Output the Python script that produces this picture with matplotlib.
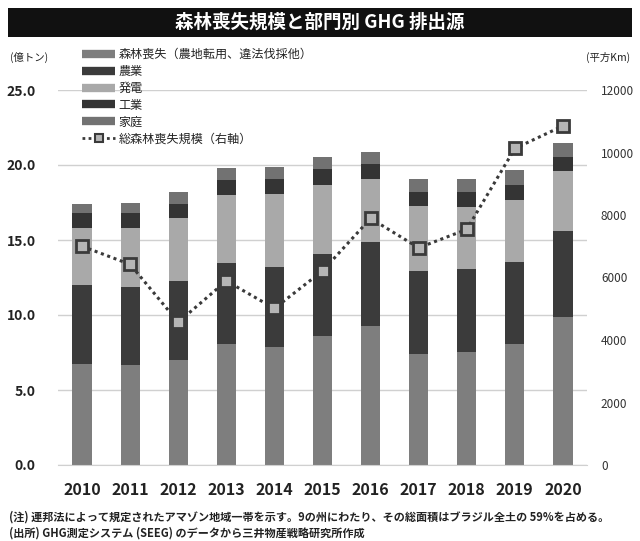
import matplotlib
matplotlib.use("Agg")
import matplotlib.pyplot as plt
from matplotlib.lines import Line2D
from matplotlib.patches import Rectangle
import numpy as np

plt.rcParams['font.family'] = ['Noto Sans CJK JP', 'DejaVu Sans']

years = [2010, 2011, 2012, 2013, 2014, 2015, 2016, 2017, 2018, 2019, 2020]
# Emissions by sector (100 million tonnes), stacked bottom to top
forest_loss = [6.73, 6.67, 7.00, 8.07, 7.89, 8.60, 9.29, 7.40, 7.56, 8.04, 9.89]
agriculture = [5.27, 5.23, 5.27, 5.37, 5.31, 5.50, 5.55, 5.53, 5.54, 5.52, 5.73]
power = [3.80, 3.90, 4.23, 4.56, 4.84, 4.57, 4.23, 4.36, 4.10, 4.14, 3.98]
industry = [1.00, 1.00, 0.90, 1.00, 1.00, 1.03, 1.00, 0.91, 1.00, 1.00, 0.96]
household = [0.60, 0.70, 0.80, 0.78, 0.86, 0.80, 0.77, 0.87, 0.87, 0.97, 0.93]
# Total deforested area (km2, right axis)
deforest_area = [7000, 6420, 4570, 5890, 5010, 6210, 7890, 6950, 7540, 10130, 10850]

series_names = ['森林喪失（農地転用、違法伐採他）', '農業', '発電', '工業', '家庭']
series_colors = ['#7e7e7e', '#3b3b3b', '#a9a9a9', '#343434', '#727272']
line_name = '総森林喪失規模（右軸）'

fig = plt.figure(figsize=(6.4, 5.41), dpi=100)
fig.patch.set_facecolor('white')

# Title bar
fig.patches.append(Rectangle((8/640, 1-37/541), 624/640, 29/541,
                             transform=fig.transFigure, facecolor='#111111',
                             edgecolor='none', zorder=0))
fig.text(0.5, 1-22.5/541, '森林喪失規模と部門別 GHG 排出源', color='white',
         fontsize=13.3, fontweight='bold', ha='center', va='center')

ax = fig.add_axes([58/640, 1-465/541, 529/640, 375/541])
x = np.arange(len(years))
bottom = np.zeros(len(years))
for vals, col in zip([forest_loss, agriculture, power, industry, household], series_colors):
    ax.bar(x, vals, width=0.4, bottom=bottom, color=col, edgecolor='none', zorder=2)
    bottom += np.array(vals)

ax.set_xlim(-0.5, len(years) - 0.5)
ax.set_ylim(0, 25)
ax.set_yticks(np.arange(0, 25.1, 5))
ax.set_yticklabels([f'{v:.1f}' for v in np.arange(0, 25.1, 5)],
                   fontsize=10, color='#222222', fontweight='bold')
ax.set_xticks(x)
ax.set_xticklabels([str(y) for y in years], fontsize=11.5, fontweight='bold',
                   color='#222222')
ax.tick_params(axis='y', length=0, pad=16)
ax.tick_params(axis='x', length=0, pad=12)
ax.grid(axis='y', color='#d0d0d0', linewidth=1.0, zorder=0)
ax.set_axisbelow(True)
for s in ax.spines.values():
    s.set_visible(False)
ax.spines['bottom'].set_visible(True)
ax.spines['bottom'].set_color('#d0d0d0')

ax2 = ax.twinx()
ax2.plot(x, deforest_area, linestyle=(0, (1, 1.2)), color='#3a3a3a', linewidth=2.2,
         marker='s', markersize=9, markerfacecolor='#b5b5b5',
         markeredgecolor='#3a3a3a', markeredgewidth=2.0, zorder=5)
ax2.set_ylim(0, 12000)
ax2.set_yticks(np.arange(0, 12001, 2000))
ax2.set_yticklabels([str(v) for v in range(0, 12001, 2000)], fontsize=8.5,
                    color='#333333')
ax2.tick_params(axis='y', length=0, pad=10)
for s in ax2.spines.values():
    s.set_visible(False)

fig.text(10/640, 1-57/541, '(億トン)', fontsize=7.5, color='#222222', va='center')
fig.text(630/640, 1-57/541, '(平方Km)', fontsize=7.5, color='#222222',
         va='center', ha='right')

handles = [Line2D([0], [0], color=c, linewidth=6, solid_capstyle='butt')
           for c in series_colors]
handles.append(Line2D([0], [0], linestyle=(0, (1, 1.2)), color='#3a3a3a', linewidth=2,
                      marker='s', markersize=6, markerfacecolor='#b5b5b5',
                      markeredgecolor='#3a3a3a', markeredgewidth=1.5))
leg = fig.legend(handles, series_names + [line_name], loc='upper left',
                 bbox_to_anchor=(82/640, 1-48/541), frameon=False,
                 fontsize=8.7, handlelength=2.75, handletextpad=0.25,
                 labelspacing=0.32, borderpad=0, borderaxespad=0)
for t in leg.get_texts():
    t.set_color('#222222')

fig.text(9/640, 1-517/541,
         '(注) 連邦法によって規定されたアマゾン地域一帯を示す。9の州にわたり、その総面積はブラジル全土の 59%を占める。',
         fontsize=8.0, fontweight='bold', color='#222222', va='center')
fig.text(9/640, 1-533/541,
         '(出所) GHG測定システム (SEEG) のデータから三井物産戦略研究所作成',
         fontsize=8.0, fontweight='bold', color='#222222', va='center')

fig.savefig('out.png', dpi=100)
